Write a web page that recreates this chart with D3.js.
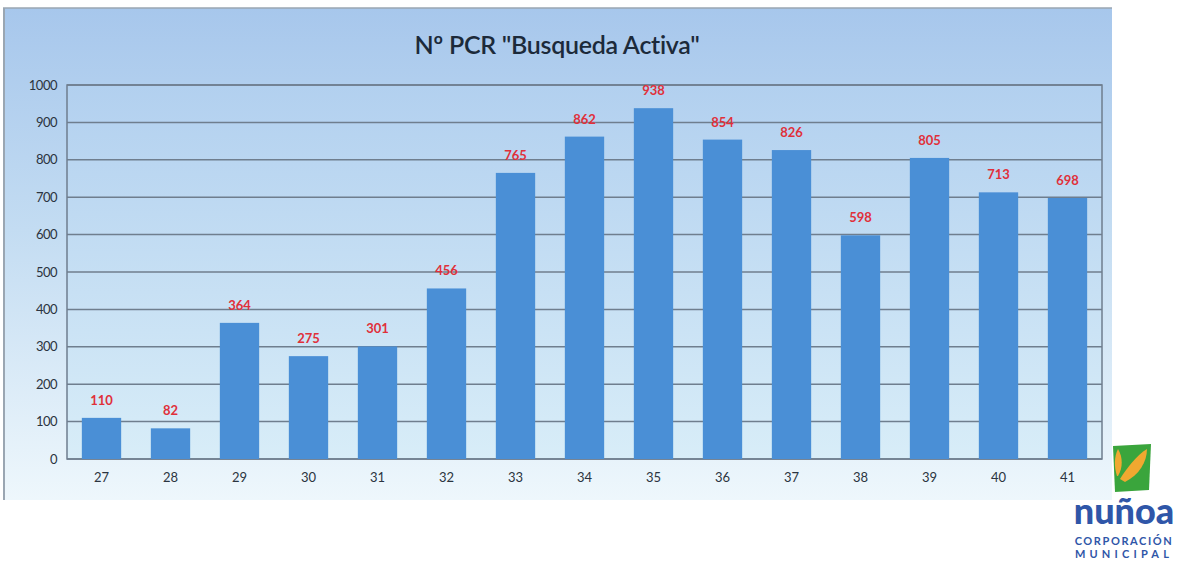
<!DOCTYPE html>
<html>
<head>
<meta charset="utf-8">
<style>
  body { margin: 0; background: #fff; }
  svg text { font-family: Lato, "Open Sans", sans-serif; }
</style>
</head>
<body>
<svg id="chart" width="1182" height="563"></svg>
<script src="https://d3js.org/d3.v7.min.js"></script>
<script>
const weeks = ["27","28","29","30","31","32","33","34","35","36","37","38","39","40","41"];
const pcr = [110, 82, 364, 275, 301, 456, 765, 862, 938, 854, 826, 598, 805, 713, 698];
const yTicks = [0,100,200,300,400,500,600,700,800,900,1000];
const title = "Nº PCR \"Busqueda Activa\"";

const svg = d3.select("#chart");
const defs = svg.append("defs");

const bg = defs.append("linearGradient").attr("id", "bg").attr("x1", 0).attr("y1", 0).attr("x2", 0).attr("y2", 1);
bg.append("stop").attr("offset", "0%").attr("stop-color", "#a7c7ec");
bg.append("stop").attr("offset", "45%").attr("stop-color", "#c3dcf2");
bg.append("stop").attr("offset", "100%").attr("stop-color", "#eef7fc");

const plotBg = defs.append("linearGradient").attr("id", "plotbg").attr("x1", 0).attr("y1", 0).attr("x2", 0).attr("y2", 1);
plotBg.append("stop").attr("offset", "0%").attr("stop-color", "#b2d0ef");
plotBg.append("stop").attr("offset", "100%").attr("stop-color", "#d8edf8");

// outer panel
svg.append("rect").attr("x", 3).attr("y", 8).attr("width", 1109).attr("height", 492)
  .attr("fill", "url(#bg)");
svg.append("line").attr("x1", 4).attr("x2", 4).attr("y1", 8).attr("y2", 500)
  .attr("stroke", "#9aa6b2").attr("stroke-width", 2);
svg.append("line").attr("x1", 3).attr("x2", 1112).attr("y1", 8).attr("y2", 8)
  .attr("stroke", "#9aa6b2").attr("stroke-width", 1.5);

svg.append("text").attr("x", 557).attr("y", 54).attr("text-anchor", "middle")
  .attr("font-size", 25).attr("fill", "#1c2a3a").attr("font-weight", 600)
  .style("letter-spacing", "-0.3px")
  .text(title);

const m = { left: 67, right: 1102, top: 85, bottom: 459 };
const x = d3.scaleBand().domain(weeks).range([m.left, m.right]).paddingInner(0.43).paddingOuter(0.215);
const y = d3.scaleLinear().domain([0, 1000]).range([m.bottom, m.top]);

svg.append("rect").attr("x", m.left).attr("y", m.top)
  .attr("width", m.right - m.left).attr("height", m.bottom - m.top)
  .attr("fill", "url(#plotbg)");

// gridlines
svg.append("g").selectAll("line").data(yTicks).join("line")
  .attr("x1", m.left).attr("x2", m.right)
  .attr("y1", d => y(d)).attr("y2", d => y(d))
  .attr("stroke", "#6f7e8e").attr("stroke-width", 1.5);

// plot border
svg.append("rect").attr("x", m.left).attr("y", m.top)
  .attr("width", m.right - m.left).attr("height", m.bottom - m.top)
  .attr("fill", "none").attr("stroke", "#6f7e8e").attr("stroke-width", 1.5);

// y axis
const yAxis = svg.append("g").attr("transform", `translate(${m.left},0)`)
  .call(d3.axisLeft(y).tickValues(yTicks).tickFormat(d3.format("d")).tickSize(0).tickPadding(10));
yAxis.select(".domain").remove();
yAxis.selectAll("text").attr("font-size", 13).attr("fill", "#2b3440")
  .style("letter-spacing", "-0.5px");

// x axis
const xAxis = svg.append("g").attr("transform", `translate(0,${m.bottom})`)
  .call(d3.axisBottom(x).tickSize(0).tickPadding(14));
xAxis.select(".domain").remove();
xAxis.selectAll("text").attr("font-size", 13).attr("fill", "#2b3440");

// bars
svg.append("g").selectAll("rect").data(pcr).join("rect")
  .attr("x", (d, i) => x(weeks[i]))
  .attr("y", d => y(d))
  .attr("width", x.bandwidth())
  .attr("height", d => y(0) - y(d))
  .attr("fill", "#4a8fd6");

// value labels
svg.append("g").selectAll("text").data(pcr).join("text")
  .attr("x", (d, i) => x(weeks[i]) + x.bandwidth() / 2)
  .attr("y", d => y(d) - 13)
  .attr("text-anchor", "middle")
  .attr("font-size", 13).attr("font-weight", 700)
  .attr("fill", "#e0303a")
  .text(d => d);

// logo
const logo = svg.append("g");
logo.append("path").attr("d", "M1113,446 L1151,444 L1149,490 L1115,492 Z").attr("fill", "#3aa53c");
logo.append("path").attr("d", "M1120,479 C1126,469 1137,455 1147,449 C1147,462 1139,475 1125,482 Z").attr("fill", "#f0a830");
logo.append("path").attr("d", "M1117,476 C1114,467 1114,457 1118,449 C1123,457 1123,468 1118,476 Z").attr("fill", "#f0a830");
logo.append("text").attr("x", 1124).attr("y", 524).attr("text-anchor", "middle")
  .attr("font-size", 36).attr("font-weight", 900).attr("fill", "#2f56a8")
  .style("letter-spacing", "0px").text("nuñoa");
logo.append("text").attr("x", 1124).attr("y", 545).attr("text-anchor", "middle")
  .attr("font-size", 11).attr("font-weight", 700).attr("fill", "#2f56a8")
  .style("letter-spacing", "1.6px").text("CORPORACIÓN");
logo.append("text").attr("x", 1124).attr("y", 558).attr("text-anchor", "middle")
  .attr("font-size", 11).attr("font-weight", 700).attr("fill", "#2f56a8")
  .style("letter-spacing", "4.2px").text("MUNICIPAL");
</script>
</body>
</html>
